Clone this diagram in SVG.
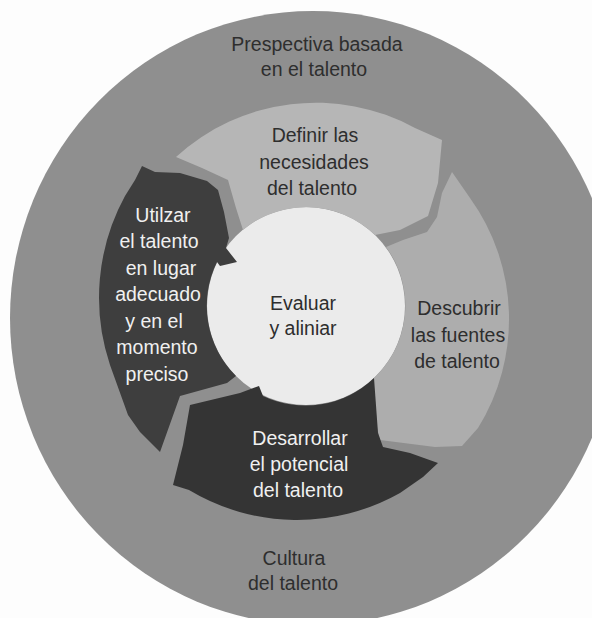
<svg xmlns="http://www.w3.org/2000/svg" width="592" height="618" viewBox="0 0 592 618">
  <style>
    text { font-family: "Liberation Sans", Arial, sans-serif; font-size: 19.5px; text-anchor: middle; }
    .ink { fill: #2e2e2e; }
    .inv { fill: #f0f0f0; }
    .light-a { fill: #b6b6b6; }
    .light-b { fill: #adadad; }
    .dark-a { fill: #3e3e3e; }
    .dark-b { fill: #343434; }
  </style>
  <rect width="592" height="618" fill="#fdfdfd"/>

  <!-- outer ring: perspective and culture -->
  <g id="perspectiva">
    <ellipse cx="313" cy="318" rx="303" ry="307" fill="#8f8f8f"/>
    <text class="ink" x="317" y="51">Prespectiva basada</text>
    <text class="ink" x="314" y="76">en el talento</text>
  </g>
  <g id="cultura">
    <text class="ink" x="294" y="565">Cultura</text>
    <text class="ink" x="293" y="590">del talento</text>
  </g>

  <!-- centre disc -->
  <g id="evaluar">
    <circle cx="306" cy="306" r="99" fill="#ebebeb"/>
    <text class="ink" x="303" y="310">Evaluar</text>
    <text class="ink" x="303" y="335">y aliniar</text>
  </g>

  <!-- cycle steps -->
  <g id="definir">
    <path class="light-a" d="M176,157 A207,207 0 0 1 415,128 L442,140 L438,183 L428,216 L400,230 L375,235 A99,99 0 0 0 243,230 L236,208 L228,180 L202,168 Z"/>
    <text class="ink" x="315" y="142">Definir las</text>
    <text class="ink" x="314" y="169">necesidades</text>
    <text class="ink" x="312" y="195">del talento</text>
  </g>

  <g id="descubrir">
    <path class="light-b" d="M452,172 L470,198 A207,207 0 0 1 478,428 L462,446 L435,447 L380,440 L377,427 L374,388 L374,378 A99,99 0 0 0 386,247 L403,240 L427,232 L437,217 L442,193 Z"/>
    <text class="ink" x="459" y="315">Descubrir</text>
    <text class="ink" x="458" y="342">las fuentes</text>
    <text class="ink" x="457" y="368">de talento</text>
  </g>

  <g id="desarrollar">
    <path class="dark-b" d="M190,405 L240,393 L259,386 L263,396 A99,99 0 0 0 374,378 L378,433 L383,447 L410,453 L438,463 L423,477 L400,493 A210,210 0 0 1 189,490 L173,485 L183,445 Z"/>
    <text class="inv" x="300" y="445">Desarrollar</text>
    <text class="inv" x="299" y="471">el potencial</text>
    <text class="inv" x="298" y="497">del talento</text>
  </g>

  <g id="utilizar">
    <path class="dark-a" d="M142,166 L155,172 L180,173 L207,181 L218,190 L224,212 L229,238 L226,248 L237,262 L220,266 L217,262 A99,99 0 0 0 236,376 L227,383 L180,396 L160,452 L140,432 L128,415 L110,365 A212,212 0 0 1 125,196 L135,180 Z"/>
    <text class="inv" x="163" y="222">Utilzar</text>
    <text class="inv" x="159" y="248">el talento</text>
    <text class="inv" x="161" y="275">en lugar</text>
    <text class="inv" x="158" y="301">adecuado</text>
    <text class="inv" x="154" y="328">y en el</text>
    <text class="inv" x="157" y="354">momento</text>
    <text class="inv" x="157" y="381">preciso</text>
  </g>

  <g id="connectors"/>
</svg>
